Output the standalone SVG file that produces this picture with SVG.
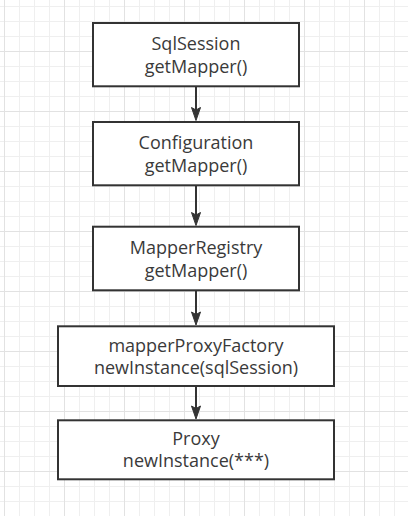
<svg xmlns="http://www.w3.org/2000/svg" width="408" height="516" viewBox="0 0 408 516">
<defs>
<pattern id="grid" patternUnits="userSpaceOnUse" x="4" y="-9" width="60" height="60">
<path d="M15.5 0V60M30.5 0V60M45.5 0V60M0 15.5H60M0 30.5H60M0 45.5H60" stroke="#efefef" stroke-width="1" fill="none"/>
<path d="M0.5 0V60M0 0.5H60" stroke="#e2e2e2" stroke-width="1" fill="none"/>
</pattern>
</defs>
<style>
.box{fill:#fff;stroke:#333;stroke-width:2}
.t{font-family:"Open Sans","Noto Sans",sans-serif;font-size:18px;fill:#3a3a3a;text-anchor:middle}
.ln{stroke:#333;stroke-width:2;fill:none}
.hd{fill:#333;stroke:#333;stroke-width:1}
</style>
<rect width="408" height="516" fill="#fff"/>
<rect width="408" height="516" fill="url(#grid)"/>
<g id="connectors">
<line class="ln" x1="196" y1="87" x2="196" y2="110"/>
<path class="hd" d="M196 120.5L191.5 107.5L196 110L200.5 107.5Z"/>
<line class="ln" x1="196" y1="186" x2="196" y2="215"/>
<path class="hd" d="M196 225.5L191.5 212.5L196 215L200.5 212.5Z"/>
<line class="ln" x1="196" y1="291" x2="196" y2="315"/>
<path class="hd" d="M196 325L191.5 312L196 314.5L200.5 312Z"/>
<line class="ln" x1="196" y1="387" x2="196" y2="409"/>
<path class="hd" d="M196 419L191.5 406L196 408.5L200.5 406Z"/>
</g>
<g id="n1">
<rect class="box" x="93" y="23" width="206" height="63.3"/>
<text class="t" x="196" y="50">SqlSession</text>
<text class="t" x="196" y="73">getMapper()</text>
</g>
<g id="n2">
<rect class="box" x="93" y="122" width="206" height="63.3"/>
<text class="t" x="196" y="149">Configuration</text>
<text class="t" x="196" y="172">getMapper()</text>
</g>
<g id="n3">
<rect class="box" x="93" y="226.7" width="206" height="63.6"/>
<text class="t" x="196" y="254">MapperRegistry</text>
<text class="t" x="196" y="277">getMapper()</text>
</g>
<g id="n4">
<rect class="box" x="58" y="326.3" width="276" height="59.7"/>
<text class="t" x="196" y="351.5">mapperProxyFactory</text>
<text class="t" x="196" y="373.5">newInstance(sqlSession)</text>
</g>
<g id="n5">
<rect class="box" x="58" y="420.3" width="276" height="59"/>
<text class="t" x="196" y="444.5">Proxy</text>
<text class="t" x="196" y="467">newInstance(***)</text>
</g>
</svg>
